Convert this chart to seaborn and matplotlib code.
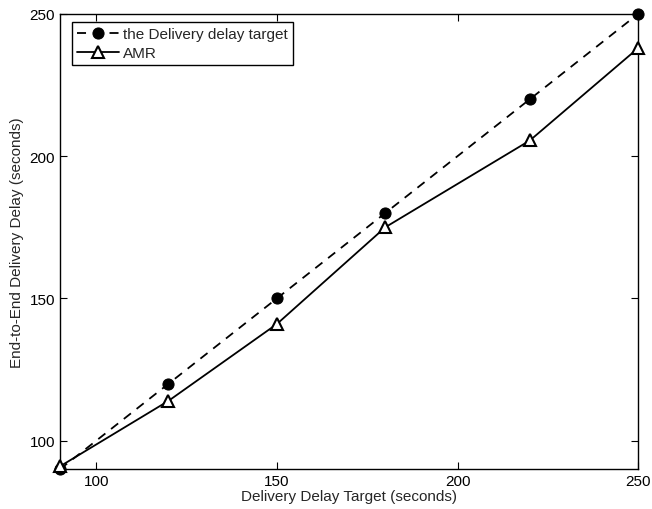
import matplotlib
matplotlib.use("Agg")
import matplotlib.pyplot as plt
import seaborn as sns
import pandas as pd

x_vals = [90, 120, 150, 180, 220, 250]
target = [90, 120, 150, 180, 220, 250]
amr = [91, 114, 141, 175, 205.5, 238]
xticks = [100, 150, 200, 250]
yticks = [100, 150, 200, 250]

sns.set_style("ticks")
plt.rcParams['font.family'] = ['Liberation Sans', 'DejaVu Sans']

fig = plt.figure(figsize=(6.52, 5.10), dpi=100)
ax = fig.add_axes([0.092, 0.078, 0.887, 0.893])

df = pd.DataFrame({"x": x_vals, "target": target, "amr": amr})
sns.lineplot(data=df, x="x", y="target", ax=ax, color="black",
             marker="o", markersize=8, markeredgecolor="black", markerfacecolor="black",
             linewidth=1.3, label="the Delivery delay target", dashes=(5, 4), clip_on=False)
sns.lineplot(data=df, x="x", y="amr", ax=ax, color="black", linestyle="-",
             marker="^", markersize=8, markeredgecolor="black", markerfacecolor="white",
             markeredgewidth=1.5, linewidth=1.3, label="AMR", clip_on=False)
ax.lines[0].set_dashes((5, 4))

ax.set_xlim(90, 250)
ax.set_ylim(90, 250)
ax.set_xticks(xticks)
ax.set_yticks(yticks)
ax.tick_params(direction="in", top=True, right=True, labelsize=11, length=5, colors="black")
for s in ax.spines.values():
    s.set_visible(True)
    s.set_color("black")
    s.set_linewidth(1.0)
    s.set_zorder(0)
ax.set_xlabel("Delivery Delay Target (seconds)", fontsize=11, labelpad=1)
ax.set_ylabel("End-to-End Delivery Delay (seconds)", fontsize=11, labelpad=4)

leg = ax.legend(loc="upper left", bbox_to_anchor=(0.021, 0.982), borderaxespad=0,
                fontsize=11, frameon=True, fancybox=False,
                edgecolor="black", handlelength=2.7,
                borderpad=0.35, labelspacing=0.3, handletextpad=0.3)
leg.get_frame().set_linewidth(1.0)
leg.get_frame().set_alpha(1)
leg.legend_handles[0].set_dashes((5, 4))

fig.savefig("out.png", dpi=100)
